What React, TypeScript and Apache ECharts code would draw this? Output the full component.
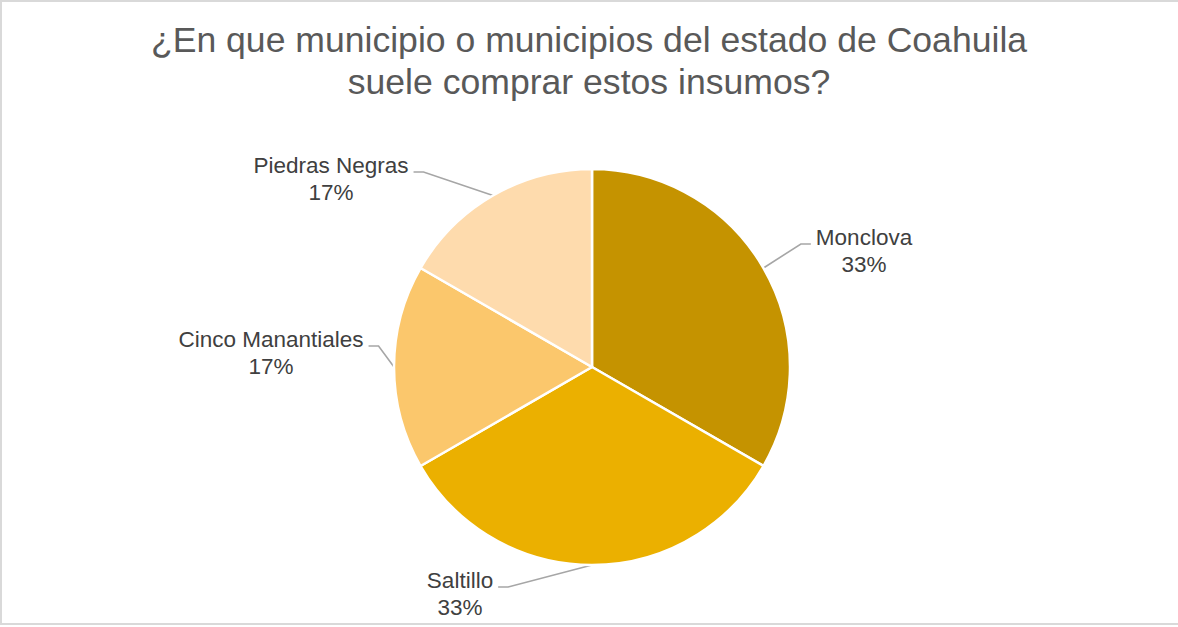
import React, { useEffect, useRef } from "react";
import * as echarts from "echarts";

const titleLines = [
  "¿En que municipio o municipios del estado de Coahuila",
  "suele comprar estos insumos?",
];
const categories = ["Monclova", "Saltillo", "Cinco Manantiales", "Piedras Negras"];
const counts = [2, 2, 1, 1];
const sliceColors = ["#C59300", "#EBB000", "#FBC76C", "#FEDBAD"];

// label block centres (layout only)
const labelPos: number[][] = [
  [864, 251],
  [460, 594],
  [271, 353],
  [331, 179],
];
const CX = 592;
const CY = 367;
const R = 198;

export default function App() {
  const ref = useRef<HTMLDivElement>(null);
  useEffect(() => {
    if (!ref.current) return;
    const chart = echarts.init(ref.current, null, { renderer: "svg" });
    chart.setOption({
      animation: false,
      backgroundColor: "#FFFFFF",
      title: {
        text: titleLines.join("\n"),
        left: "center",
        top: 19,
        padding: [0, 0, 0, 6],
        textStyle: {
          fontFamily: "Liberation Sans",
          fontSize: 35.6,
          lineHeight: 42,
          fontWeight: "normal",
          color: "#595959",
        },
      },
      series: [
        {
          type: "pie",
          center: [CX, CY],
          radius: R,
          startAngle: 90,
          clockwise: true,
          percentPrecision: 0,
          avoidLabelOverlap: false,
          data: categories.map((c, i) => ({
            name: c,
            value: counts[i],
            itemStyle: { color: sliceColors[i] },
          })),
          itemStyle: { borderColor: "#FFFFFF", borderWidth: 2.5 },
          label: {
            show: true,
            position: "outside",
            formatter: "{b}\n{d}%",
            fontFamily: "Liberation Sans",
            fontSize: 22.5,
            lineHeight: 27,
            color: "#404040",
            align: "center",
          },
          labelLine: {
            show: true,
            length: 20,
            length2: 10,
            lineStyle: { color: "#A6A6A6", width: 1.6 },
          },
          labelLayout: (p: any) => {
            const [x, y] = labelPos[p.dataIndex];
            const w = p.labelRect.width;
            const left = x < CX;
            const endX = left ? x + w / 2 + 5 : x - w / 2 - 5;
            const endY = y - 7;
            const elbowX = left ? endX + 10 : endX - 10;
            const start = p.labelLinePoints && p.labelLinePoints[0];
            const out: any = { x, y, align: "center", verticalAlign: "middle" };
            if (start) out.labelLinePoints = [start, [elbowX, endY], [endX, endY]];
            return out;
          },
          emphasis: { disabled: true },
        },
      ],
    });
    return () => chart.dispose();
  }, []);
  return (
    <div
      style={{
        position: "fixed",
        left: 0,
        top: 0,
        width: 1178,
        height: 627,
        overflow: "hidden",
        background: "#fff",
      }}
    >
      <div ref={ref} style={{ position: "absolute", left: 0, top: 0, width: 1178, height: 627 }} />
      <div
        style={{
          position: "absolute",
          left: 0,
          top: 0,
          width: 1190,
          height: 625,
          boxSizing: "border-box",
          border: "2px solid #D9D9D9",
          pointerEvents: "none",
        }}
      />
    </div>
  );
}
